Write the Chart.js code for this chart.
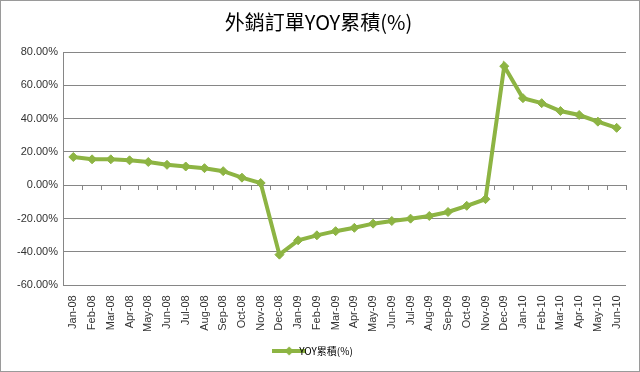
<!DOCTYPE html>
<html>
<head>
<meta charset="utf-8">
<script src="https://cdn.jsdelivr.net/npm/chart.js@4/dist/chart.umd.min.js"></script>
<style>
  html, body { margin: 0; padding: 0; background: #fff; }
  canvas { display: block; }
</style>
</head>
<body>
<canvas id="c" width="640" height="372"></canvas>
<script>
// months on the category axis
const months = ['Jan-08','Feb-08','Mar-08','Apr-08','May-08','Jun-08','Jul-08','Aug-08','Sep-08','Oct-08','Nov-08','Dec-08',
  'Jan-09','Feb-09','Mar-09','Apr-09','May-09','Jun-09','Jul-09','Aug-09','Sep-09','Oct-09','Nov-09','Dec-09',
  'Jan-10','Feb-10','Mar-10','Apr-10','May-10','Jun-10']
// YOY cumulative, percent
const yoyValues = [17.0, 15.6, 15.6, 15.0, 14.0, 12.3, 11.3, 10.3, 8.5, 4.6, 1.4, -41.6,
  -33.0, -30.0, -27.5, -25.5, -23.0, -21.4, -20.0, -18.4, -16.0, -12.3, -8.3, 71.5,
  52.3, 49.3, 44.6, 42.2, 38.2, 34.5]
const seriesName = 'YOY累積(%)'
const chartTitle = '外銷訂單YOY累積(%)'
const yMin = -60
const yMax = 80
const yStep = 20

const green = '#8db443'

// little line + diamond swatch for the legend
function legendSwatch() {
  const cv = document.createElement('canvas')
  cv.width = 34; cv.height = 10
  const g = cv.getContext('2d')
  g.strokeStyle = green; g.lineWidth = 4
  g.beginPath(); g.moveTo(0, 5); g.lineTo(34, 5); g.stroke()
  g.fillStyle = green
  g.beginPath(); g.moveTo(17, 0.5); g.lineTo(21.5, 5); g.lineTo(17, 9.5); g.lineTo(12.5, 5); g.closePath(); g.fill()
  return cv
}

const frame = {
  id: 'frame',
  afterDraw(chart) {
    const ctx = chart.ctx
    ctx.save()
    ctx.strokeStyle = '#9a9a9a'
    ctx.lineWidth = 1
    ctx.strokeRect(0.5, 0.5, chart.width - 1, chart.height - 1)
    ctx.restore()
  }
}

const chart = new Chart(document.getElementById('c'), {
  type: 'line',
  data: {
    labels: months,
    datasets: [{
      label: seriesName,
      data: yoyValues,
      borderColor: green,
      backgroundColor: green,
      borderWidth: 4,
      tension: 0,
      pointStyle: 'rectRot',
      pointRadius: 4.5,
      pointBackgroundColor: green,
      pointBorderColor: green,
      pointBorderWidth: 1
    }]
  },
  options: {
    responsive: false,
    animation: false,
    layout: { padding: { left: 11, right: 14, top: 4, bottom: 6 } },
    plugins: {
      title: {
        display: true,
        text: chartTitle,
        color: '#000',
        font: { family: "'Noto Sans CJK TC'", size: 20, weight: 'normal' },
        padding: { top: 6, bottom: 18 }
      },
      legend: {
        position: 'bottom',
        labels: {
          usePointStyle: true,
          color: '#333',
          padding: 12,
          font: { family: "'Noto Sans CJK TC'", size: 10 },
          generateLabels(ch) {
            return [{ text: seriesName, pointStyle: legendSwatch(), fillStyle: green, strokeStyle: green, lineWidth: 0, datasetIndex: 0 }]
          }
        }
      },
      tooltip: { enabled: false }
    },
    scales: {
      x: {
        offset: true,
        grid: { display: false },
        border: { display: false },
        ticks: {
          minRotation: 90,
          maxRotation: 90,
          autoSkip: false,
          color: '#333',
          padding: 2,
          font: { family: 'Arial, Liberation Sans', size: 11 }
        }
      },
      x0: {
        type: 'category',
        labels: months,
        offset: true,
        position: { y: 0 },
        ticks: { display: false },
        grid: { offset: true, drawOnChartArea: false, drawTicks: true, tickLength: 4, color: '#868686' },
        border: { display: true, color: '#868686', width: 1 }
      },
      y: {
        min: yMin,
        max: yMax,
        grid: { color: '#868686', drawTicks: false },
        border: { display: true, color: '#868686' },
        ticks: {
          stepSize: yStep,
          color: '#333',
          padding: 6,
          font: { family: 'Arial, Liberation Sans', size: 11 },
          callback: v => v.toFixed(2) + '%'
        }
      }
    }
  },
  plugins: [frame]
})
</script>
</body>
</html>
